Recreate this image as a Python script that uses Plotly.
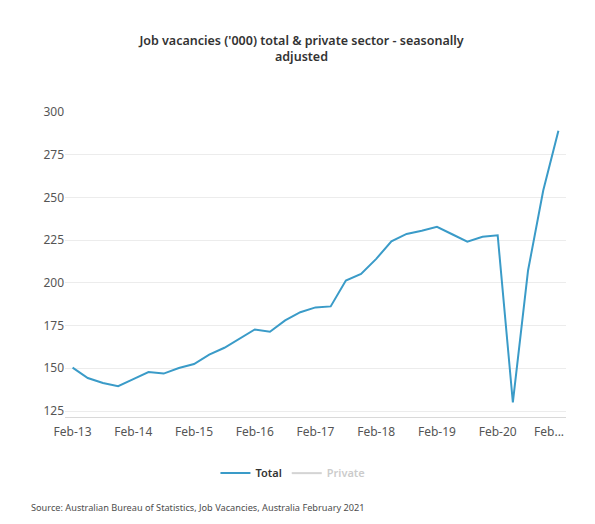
import plotly.graph_objects as go

# quarterly, Feb-13 .. Feb-21
quarters = []
for yr in range(13, 22):
    for m in ["Feb", "May", "Aug", "Nov"]:
        quarters.append(f"{m}-{yr}")
quarters = quarters[:33]

total = [150.4, 144.3, 141.4, 139.5, 143.7, 147.8, 146.9, 150.2, 152.5, 158.0,
         162.0, 167.5, 172.7, 171.4, 178.0, 182.8, 185.6, 186.2, 201.3, 205.2,
         214.0, 224.3, 228.6, 230.5, 232.7, 228.4, 224.1, 226.9, 227.8, 130.0,
         207.2, 254.0, 288.9]

# hidden series (legend only)
private = [132.1, 126.8, 124.5, 123.0, 127.3, 131.0, 130.2, 133.4, 135.6, 140.9,
           144.7, 149.6, 154.3, 152.8, 159.0, 163.1, 165.5, 165.8, 180.2, 183.6,
           191.4, 200.9, 204.6, 205.9, 207.8, 203.2, 198.9, 201.1, 201.4, 111.8,
           183.5, 225.9, 255.6]

tick_vals = quarters[::4]
# last label is truncated and pulled in from the edge
tick_text = tick_vals[:-1] + ["Feb..." + "\u00a0" * 6]

fig = go.Figure()
fig.add_trace(go.Scatter(x=quarters, y=total, name="Total", mode="lines",
                         line=dict(color="#3a9bc8", width=2)))
fig.add_trace(go.Scatter(x=quarters, y=private, name="<span style='color:#999999'>Private</span>",
                         mode="lines", line=dict(color="#aaaaaa", width=2), visible="legendonly"))

# page body has an 8px margin, so the figure is a bit smaller than the window
fig.update_layout(
    width=587, height=516,
    paper_bgcolor="white", plot_bgcolor="white",
    margin=dict(l=57, r=29, t=103, b=107.3),
    font=dict(family="Noto Sans", size=12, color="#555555"),
    title=dict(text="Job vacancies ('000) total & private sector - seasonally<br>adjusted",
               x=0.5, xanchor="center", y=0.929, yanchor="top",
               font=dict(family="Noto Sans", size=12.5, color="#333333", weight=600)),
    showlegend=True,
    legend=dict(orientation="h", x=0.455, xanchor="center", y=-0.136, yanchor="top",
                font=dict(size=11, color="#333333", weight=600), itemwidth=30),
    annotations=[dict(text="Source: Australian Bureau of Statistics, Job Vacancies, Australia February 2021",
                      xref="paper", yref="paper", x=-0.072, y=-0.269, xanchor="left", yanchor="top",
                      showarrow=False, font=dict(size=9.2, color="#4d4d4d"))],
)
fig.update_xaxes(type="category", range=[-0.5, 32.5], tickvals=tick_vals, ticktext=tick_text,
                 showgrid=False, showline=True, linecolor="#d9d9d9", ticks="",
                 ticklabelstandoff=4, tickfont=dict(size=12, color="#555555"))
fig.update_yaxes(range=[121.5, 300.5], tickvals=[125, 150, 175, 200, 225, 250, 275, 300],
                 showgrid=True, gridcolor="#ececec", zeroline=False, ticks="",
                 tickfont=dict(size=12, color="#555555"))

fig.write_html("out.html")
